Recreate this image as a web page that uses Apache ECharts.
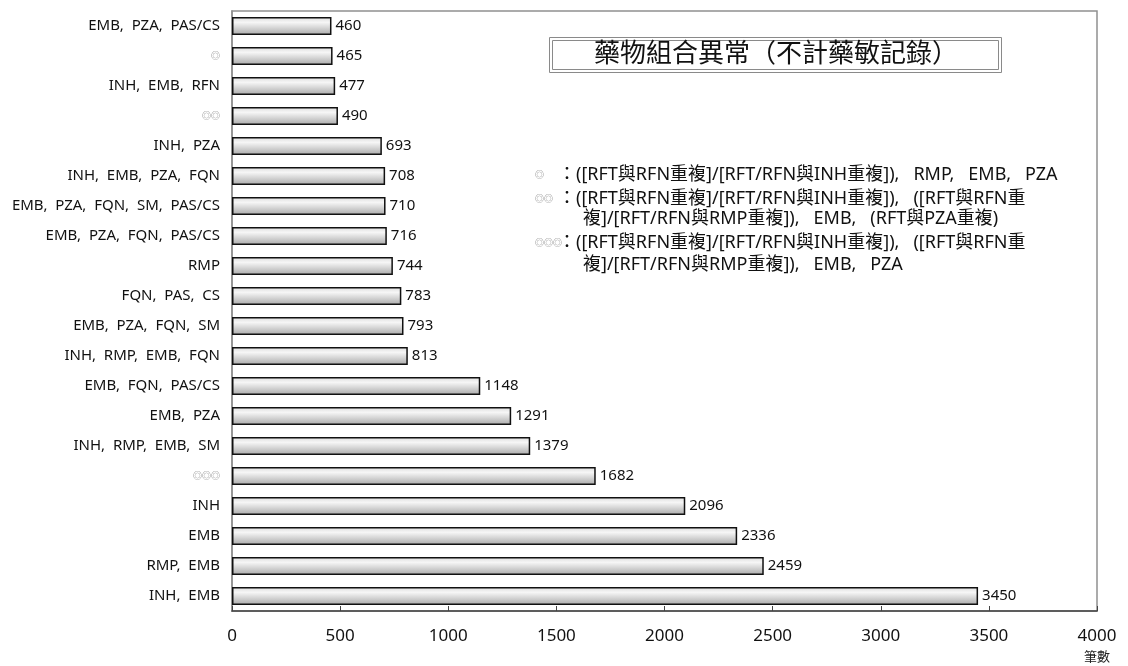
<!DOCTYPE html>
<html><head><meta charset="utf-8">
<script src="https://cdn.jsdelivr.net/npm/echarts@6/dist/echarts.min.js"></script>
<style>html,body{margin:0;padding:0;background:#fff}#c{width:1128px;height:666px}</style>
</head><body><div id="c"></div>
<script>
const categories = ["EMB, PZA, PAS/CS","◎","INH, EMB, RFN","◎◎","INH, PZA","INH, EMB, PZA, FQN","EMB, PZA, FQN, SM, PAS/CS","EMB, PZA, FQN, PAS/CS","RMP","FQN, PAS, CS","EMB, PZA, FQN, SM","INH, RMP, EMB, FQN","EMB, FQN, PAS/CS","EMB, PZA","INH, RMP, EMB, SM","◎◎◎","INH","EMB","RMP, EMB","INH, EMB"];
const values = [460,465,477,490,693,708,710,716,744,783,793,813,1148,1291,1379,1682,2096,2336,2459,3450];
const xTicks = [0,500,1000,1500,2000,2500,3000,3500,4000];
const titleText = "藥物組合異常（不計藥敏記錄）";
const noteSymbols = ["◎","◎◎","","◎◎◎",""];
const noteLines = [
 "：([RFT與RFN重複]/[RFT/RFN與INH重複]),   RMP,   EMB,   PZA",
 "：([RFT與RFN重複]/[RFT/RFN與INH重複]),   ([RFT與RFN重",
 "複]/[RFT/RFN與RMP重複]),   EMB,   (RFT與PZA重複)",
 "：([RFT與RFN重複]/[RFT/RFN與INH重複]),   ([RFT與RFN重",
 "複]/[RFT/RFN與RMP重複]),   EMB,   PZA"
];
const unitLabel = "筆數";

const FONT = '"Noto Sans", "Noto Sans CJK TC", sans-serif';
const chart = echarts.init(document.getElementById('c'), null, {renderer:'canvas'});
const lineYs = [175,199,219,243,265];
const graphics = [
  {type:'rect', shape:{x:549.5,y:37.5,width:452,height:35}, style:{fill:'#fff',stroke:'#8a8a8a',lineWidth:1}},
  {type:'rect', shape:{x:552.5,y:40.5,width:446,height:29}, style:{fill:'none',stroke:'#8a8a8a',lineWidth:1}},
  {type:'text', x:776, y:55, style:{text:titleText, font:'26px '+FONT, fill:'#111', textAlign:'center', textVerticalAlign:'middle'}},
  {type:'text', x:1110, y:657, style:{text:unitLabel, font:'13px '+FONT, fill:'#222', textAlign:'right', textVerticalAlign:'middle'}}
];
noteLines.forEach((t,i)=>{
  if(noteSymbols[i]) graphics.push({type:'text', x:535, y:lineYs[i], style:{text:noteSymbols[i], font:'9px '+FONT, fill:'#777', textVerticalAlign:'middle'}});
  graphics.push({type:'text', x: t.startsWith('：') ? 558 : 583, y:lineYs[i], style:{text:t, font:'18px '+FONT, fill:'#111', textVerticalAlign:'middle'}});
});

chart.setOption({
  animation:false,
  grid:{left:232,right:31,top:11,bottom:55,show:true,borderColor:'#909090',borderWidth:1.5},
  xAxis:{type:'value',min:0,max:4000,interval:500,
    axisLine:{show:true,lineStyle:{color:'#444',width:1.5}},
    axisTick:{show:true,inside:true,length:5,lineStyle:{color:'#444'}},
    splitLine:{show:false},
    axisLabel:{margin:17,fontSize:17,color:'#111',fontFamily:FONT,
      formatter:v=>xTicks.includes(v)?String(v):''}
  },
  yAxis:{type:'category',data:categories,inverse:true,
    axisLine:{show:true,lineStyle:{color:'#909090',width:1.5}},
    axisTick:{show:false},
    axisLabel:{margin:12,fontSize:15,color:'#111',fontFamily:FONT,
      formatter:v=>v.startsWith('◎')?'{s|'+v+'}':v.split(', ').join(',  '),
      rich:{s:{fontSize:9,color:'#777',fontFamily:FONT}}}
  },
  series:[{type:'bar',data:values,barWidth:'60%',
    itemStyle:{borderColor:'#111',borderWidth:1.5,
      color:new echarts.graphic.LinearGradient(0,0,0,1,[
        {offset:0,color:'#dcdcdc'},{offset:0.3,color:'#f6f6f6'},{offset:1,color:'#a9a9a9'}])},
    label:{show:true,position:'right',distance:4,fontSize:15,color:'#111',fontFamily:FONT}
  }],
  graphic:graphics
});
</script></body></html>
